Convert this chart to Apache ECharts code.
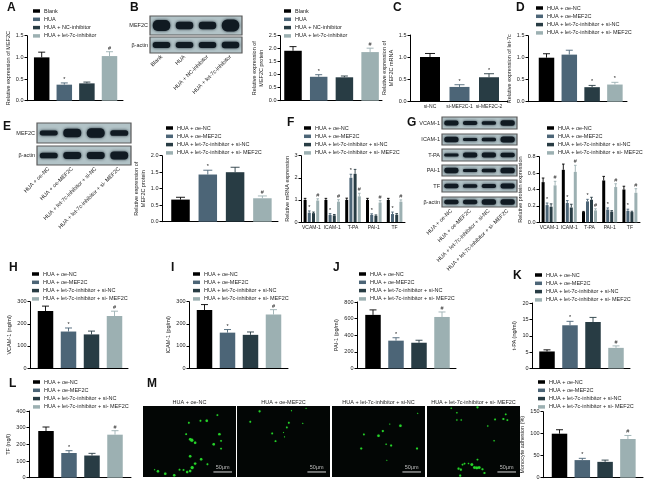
<!DOCTYPE html>
<html><head><meta charset="utf-8">
<style>html,body{margin:0;padding:0;background:#fff}#c{width:647px;height:483px;filter:blur(0.3px)}</style>
<script src="https://cdn.jsdelivr.net/npm/echarts@6/dist/echarts.min.js"></script>
</head><body><div id="c"></div>
<script>
// ---------- names ----------
const namesBlank = ['Blank','HUA','HUA + NC-inhibitor','HUA + let-7c-inhibitor'];
const namesRescue = ['HUA + oe-NC','HUA + oe-MEF2C','HUA + let-7c-inhibitor + si-NC','HUA + let-7c-inhibitor + si- MEF2C'];
const namesSi = ['si-NC','si-MEF2C-1','si-MEF2C-2'];
const molecules = ['VCAM-1','ICAM-1','T-PA','PAI-1','TF'];
const colors = ['#000000','#4c6577','#283c44','#9cb0b2'];

// ---------- values ----------
const valuesA=[1.0,0.37,0.40,1.03], errorsA=[0.12,0.04,0.03,0.10], marksA=['','*','','#'];
const valuesB=[1.92,0.92,0.90,1.87], errorsB=[0.16,0.08,0.05,0.15], marksB=['','*','','#'];
const valuesC=[1.0,0.32,0.54], errorsC=[0.08,0.05,0.08], marksC=['','*','*'];
const valuesD=[1.0,1.07,0.33,0.39], errorsD=[0.09,0.10,0.04,0.05], marksD=['','','*','*'];
const valuesE=[0.67,1.43,1.50,0.71], errorsE=[0.07,0.13,0.15,0.07], marksE=['','*','','#'];
const valuesH=[258,165,152,235], errorsH=[22,16,15,22], marksH=['','*','','#'];
const valuesI=[262,160,150,242], errorsI=[25,14,13,22], marksI=['','*','','#'];
const valuesJ=[645,335,310,620], errorsJ=[60,35,30,60], marksJ=['','*','','#'];
const valuesK=[5.2,13.2,14.2,6.3], errorsK=[0.5,1.2,1.4,0.6], marksK=['','*','','#'];
const valuesL=[280,148,133,258], errorsL=[24,14,13,24], marksL=['','*','','#'];
const valuesM=[100,40,36,88], errorsM=[9,4,4,8], marksM=['','*','','#'];

const valuesF=[[1,1,1,1,1],[0.42,0.32,2.0,0.32,0.36],[0.40,0.30,2.18,0.28,0.33],[0.97,0.92,1.16,0.88,0.92]];
const errorsF=[[0.07,0.07,0.08,0.07,0.07],[0.08,0.06,0.16,0.05,0.09],[0.05,0.04,0.2,0.04,0.05],[0.08,0.09,0.14,0.09,0.08]];
const marksF=[['','','','',''],['*','*','*','*','*'],['','','','',''],['#','#','#','#','#']];
const valuesG=[[0.49,0.64,0.125,0.51,0.40],[0.21,0.235,0.255,0.155,0.14],[0.19,0.18,0.275,0.13,0.125],[0.45,0.615,0.145,0.43,0.36]];
const errorsG=[[0.05,0.07,0.008,0.05,0.04],[0.025,0.03,0.025,0.02,0.02],[0.035,0.04,0.03,0.012,0.01],[0.05,0.08,0.02,0.04,0.05]];
const marksG=[['','','','',''],['*','*','*','*','*'],['','','','',''],['#','#','#','#','#']];

// ---------- western blot band thickness per lane ----------
const bandsB=[['MEF2C',[0.58,0.40,0.40,0.62]],['β-actin',[0.36,0.38,0.36,0.40]]];
const bandsE=[['MEF2C',[0.25,0.42,0.48,0.28]],['β-actin',[0.30,0.36,0.36,0.42]]];
const bandsG=[['VCAM-1',[0.40,0.32,0.30,0.46]],['ICAM-1',[0.50,0.28,0.30,0.55]],['T-PA',[0.25,0.42,0.40,0.36]],['PAI-1',[0.48,0.26,0.30,0.52]],['TF',[0.36,0.28,0.32,0.40]],['β-actin',[0.46,0.46,0.55,0.55]]];

// ---------- fluorescence dots, in image pixels from lower left ----------
const dots1=[[138,162,2],[173,168,2],[192,168,3],[224,185,2],[230,128,3],[142,113,3],[147,110,4],[157,102,3],[213,98,3],[235,108,2],[235,85,2],[130,128,2],[142,62,3],[175,53,3],[157,40,3],[194,38,2],[148,28,4],[142,18,3],[133,15,3],[122,21,2],[110,22,2],[94,5,3],[67,10,3],[45,17,3],[35,22,1]];
const dots2=[[68,196,2.5],[40,165,2],[164,198,1],[156,162,2],[150,148,2],[106,130,2],[140,133,1],[116,107,2],[143,120,1],[208,205,1],[198,160,1]];
const dots3=[[258,190,1],[206,153,3],[153,137,2.5],[140,123,3],[96,127,2],[174,158,1],[163,98,1.5],[178,94,2.5],[88,85,2.5],[256,85,2.5],[165,50,1]];
const dots4=[[73,205,1.5],[152,208,2.5],[90,192,1.5],[90,170,1.5],[103,170,1.5],[205,172,2],[230,173,2.5],[242,170,2],[237,187,2],[183,152,1.5],[202,108,1.5],[152,52,2],[135,37,3.5],[143,28,3.5],[150,27,3.5],[157,28,3.5],[125,40,1.5],[107,37,2],[113,40,2],[95,25,2.5],[102,22,2.5],[167,23,2.5],[173,12,2.5],[100,4,2.5]];

const FONT='"Liberation Sans", Arial, sans-serif', FS=5.5, INK='#1c1c1c';
const option={animation:false,backgroundColor:'#fff',textStyle:{fontFamily:FONT},grid:[],xAxis:[],yAxis:[],series:[],legend:[],graphic:[]};

function addGrid(l,t,r,b,extra){option.grid.push(Object.assign({left:l,top:t,width:r-l,height:b-t,containLabel:false},extra||{}));return option.grid.length-1;}
function yAx(gi,max,interval,name,gap,fmt){
  option.yAxis.push({type:'value',gridIndex:gi,min:0,max:max,interval:interval,
    name:name,nameLocation:'middle',nameGap:gap,nameRotate:90,
    nameTextStyle:{fontSize:FS,color:INK,fontFamily:FONT,lineHeight:7},
    axisLine:{show:true,onZero:false,lineStyle:{color:'#000',width:1}},axisTick:{show:true,length:2.5,lineStyle:{color:'#000',width:1}},
    axisLabel:{fontSize:FS,color:INK,margin:3.5,fontFamily:FONT,formatter:fmt},splitLine:{show:false}});
  return option.yAxis.length-1;
}
function addLegend(names,x,y,gap){
  option.legend.push({data:names,left:x,top:y,orient:'vertical',padding:0,itemGap:gap,itemWidth:7,itemHeight:3.5,icon:'rect',selectedMode:false,
    textStyle:{fontSize:FS,color:INK,fontFamily:FONT,padding:[0,0,0,-1]}});
}
function errorItem(offsetPx,capPx){
  return function(params,api){
    const x=api.value(0),v=api.value(1),e=api.value(2),c=api.value(3),o=offsetPx(c);
    const p0=api.coord([x,v]),p1=api.coord([x,v+e]);
    const X=p0[0]+o,col=colors[c];
    const txt=api.value(4)===1?'*':api.value(4)===2?'#':'';
    return {type:'group',children:[
      {type:'line',shape:{x1:X,y1:p0[1],x2:X,y2:p1[1]},style:{stroke:col,lineWidth:0.9},silent:true},
      {type:'line',shape:{x1:X-capPx,y1:p1[1],x2:X+capPx,y2:p1[1]},style:{stroke:col,lineWidth:0.9},silent:true},
      {type:'text',x:X,y:p1[1]-0.5,style:{text:txt,fill:'#222',fontSize:FS,fontFamily:FONT,align:'center',verticalAlign:'bottom'},silent:true}
    ]};
  };
}
const markCode=m=>m==='*'?1:m==='#'?2:0;

function simplePanel(p){
  const gi=addGrid(p.left,p.top,p.right,p.bottom);
  const c0=p.c0, s=p.step;
  const xmin=(p.left-c0)/s, xmax=(p.right-c0)/s;
  const xIdx=option.xAxis.push({type:'value',gridIndex:gi,min:xmin,max:xmax,
    axisLine:{show:true,onZero:false,lineStyle:{color:'#000',width:1}},axisTick:{show:false},splitLine:{show:false},axisLabel:{show:false}})-1;
  const yIdx=yAx(gi,p.max,p.interval,p.yname,p.gap,p.fmt);
  const cidx=p.colorIdx||[0,1,2,3];
  p.values.forEach((v,i)=>{
    option.series.push({type:'bar',name:p.names?p.names[i]:('bar'+gi+'_'+i),xAxisIndex:xIdx,yAxisIndex:yIdx,barWidth:p.bw,barGap:'-100%',
      itemStyle:{color:colors[cidx[i]]},data:[[i,v]]});
  });
  option.series.push({type:'custom',name:'err'+gi,xAxisIndex:xIdx,yAxisIndex:yIdx,renderItem:errorItem(()=>0,p.cap||3.5),clip:false,z:3,
    data:p.values.map((v,i)=>[i,v,p.errors[i],cidx[i],markCode(p.marks[i])])});
  if(p.names) addLegend(p.names,p.lx,p.ly,p.lgap||2.3);
  if(p.labels){
    // label band: a plain category axis whose bands sit exactly under the bars
    const g2=addGrid(c0-s/2,p.top,c0+s*(p.labels.length-0.5),p.bottom);
    option.xAxis.push({type:'category',gridIndex:g2,data:p.labels,axisLine:{show:false},axisTick:{show:false},
      axisLabel:{fontSize:p.labelSize||FS,color:INK,margin:3,fontFamily:FONT,interval:0}});
    option.yAxis.push({type:'value',gridIndex:g2,min:0,max:1,show:false});
  }
}
function groupPanel(p){
  const gi=addGrid(p.left,p.top,p.right,p.bottom);
  const xIdx=option.xAxis.push({type:'category',gridIndex:gi,data:molecules,
    axisLine:{show:true,lineStyle:{color:'#000',width:1}},axisTick:{show:false},
    axisLabel:{fontSize:5,color:INK,margin:3,fontFamily:FONT,interval:0}})-1;
  const yIdx=yAx(gi,p.max,p.interval,p.yname,p.gap,p.fmt);
  p.values.forEach((row,i)=>{
    option.series.push({type:'bar',name:namesRescue[i],xAxisIndex:xIdx,yAxisIndex:yIdx,barWidth:p.bw,barGap:p.barGap,
      itemStyle:{color:colors[i]},data:row});
    option.series.push({type:'custom',name:'err'+gi+'_'+i,xAxisIndex:xIdx,yAxisIndex:yIdx,clip:false,z:3,
      renderItem:errorItem(c=>(c-1.5)*p.stepPx,1.3),
      data:row.map((v,j)=>[j,v,p.errors[i][j],i,markCode(p.marks[i][j])])});
  });
  addLegend(namesRescue,p.lx,p.ly,2.3);
}
function blotRow(label,bands,l,t,r,b,ticks){
  const gi=addGrid(l,t,r,b,{show:true,borderColor:'#5a5a5a',borderWidth:1.2,backgroundColor:'#b2c3c7'});
  const xIdx=option.xAxis.push({type:'category',gridIndex:gi,data:ticks||['a','b','c','d'],
    axisLine:{show:false},axisTick:{show:false},
    axisLabel:ticks?{show:true,rotate:45,interval:0,fontSize:FS,color:INK,margin:3,fontFamily:FONT}:{show:false}})-1;
  const yIdx=option.yAxis.push({type:'value',gridIndex:gi,min:0,max:1,name:label,nameLocation:'middle',nameGap:2,nameRotate:0,
    nameTextStyle:{fontSize:FS,color:INK,align:'right',verticalAlign:'middle',fontFamily:FONT},
    axisLine:{show:false},axisTick:{show:false},axisLabel:{show:false},splitLine:{show:false}})-1;
  option.series.push({type:'custom',name:'blot'+gi,xAxisIndex:xIdx,yAxisIndex:yIdx,clip:true,
    data:bands.map((v,i)=>[i,0.5,v]),
    renderItem:(params,api)=>{
      const c=api.coord([api.value(0),api.value(1)]);
      const sz=api.size([1,api.value(2)]);
      const w=sz[0]*0.76,h=sz[1];
      return {type:'rect',shape:{x:c[0]-w/2,y:c[1]-h/2,width:w,height:h,r:h/2.2},
        style:{fill:'#101a22',shadowBlur:3,shadowColor:'rgba(15,28,38,0.9)'},silent:true};
    }});
}
function microPanel(title,dots,l,t,r,b){
  const gi=addGrid(l,t,r,b,{show:true,borderWidth:0,backgroundColor:'#030605'});
  const xIdx=option.xAxis.push({type:'value',gridIndex:gi,min:0,max:280,position:'top',name:title,nameLocation:'middle',nameGap:1,
    nameTextStyle:{fontSize:FS,color:INK,fontFamily:FONT,verticalAlign:'bottom'},
    axisLine:{show:false},axisTick:{show:false},axisLabel:{show:false},splitLine:{show:false}})-1;
  const yIdx=option.yAxis.push({type:'value',gridIndex:gi,min:0,max:212,show:false})-1;
  option.series.push({type:'scatter',name:'dots'+gi,xAxisIndex:xIdx,yAxisIndex:yIdx,data:dots,symbol:'circle',
    symbolSize:v=>v[2]*0.65+0.5,itemStyle:{color:'#2ce82f',shadowBlur:1,shadowColor:'#1bb51f'}});
  option.series.push({type:'custom',name:'scale'+gi,xAxisIndex:xIdx,yAxisIndex:yIdx,data:[[212,268,15]],
    renderItem:(params,api)=>{
      const a=api.coord([api.value(0),api.value(2)]),c=api.coord([api.value(1),api.value(2)]);
      return {type:'group',children:[
        {type:'line',shape:{x1:a[0],y1:a[1],x2:c[0],y2:c[1]},style:{stroke:'#d8d8d8',lineWidth:1}},
        {type:'text',x:(a[0]+c[0])/2,y:a[1]-1,style:{text:'50μm',fill:'#bdbdbd',fontSize:FS,fontFamily:FONT,align:'center',verticalAlign:'bottom'}}
      ]};
    }});
}
const f1=v=>v.toFixed(1);

simplePanel({left:27,right:123,top:35.7,bottom:100.7,c0:41.7,step:22.6,bw:15.5,max:1.5,interval:0.5,fmt:f1,
  yname:'Relative expression of MEF2C',gap:12,values:valuesA,errors:errorsA,marks:marksA,names:namesBlank,lx:33,ly:8});
simplePanel({left:280,right:382,top:35.7,bottom:100.7,c0:293,step:25.7,bw:17.5,max:2.5,interval:0.5,fmt:f1,
  yname:'Relative expression of\nMEF2C protein',gap:13,values:valuesB,errors:errorsB,marks:marksB,names:namesBlank,lx:284,ly:8});
simplePanel({left:410,right:508,top:35,bottom:101,c0:430,step:29.5,bw:20,max:1.5,interval:0.5,fmt:f1,cap:5,
  yname:'Relative expression of\nMEF2C mRNA',gap:10,values:valuesC,errors:errorsC,marks:marksC,labels:namesSi,colorIdx:[0,1,2],labelSize:5});
simplePanel({left:528,right:627,top:35.7,bottom:101.7,c0:546.5,step:22.8,bw:15.5,max:1.5,interval:0.5,fmt:f1,
  yname:'Relative expression of let-7c',gap:8,values:valuesD,errors:errorsD,marks:marksD,names:namesRescue,lx:536,ly:5});
simplePanel({left:162,right:278,top:155.7,bottom:221.7,c0:180.5,step:27.3,bw:18.5,max:2.0,interval:0.5,fmt:f1,cap:4.5,
  yname:'Relative expression of\nMEF2C protein',gap:11,values:valuesE,errors:errorsE,marks:marksE,names:namesRescue,lx:166,ly:125});
groupPanel({left:301,right:405,top:155.7,bottom:222,max:3,interval:1,yname:'Relative mRNA expression',gap:8,
  values:valuesF,errors:errorsF,marks:marksF,bw:3,barGap:'40%',stepPx:4.2,lx:304,ly:125});
groupPanel({left:539,right:640,top:156.7,bottom:222.3,max:0.8,interval:0.2,fmt:f1,yname:'Relative protein expression',gap:9,
  values:valuesG,errors:errorsG,marks:marksG,bw:3,barGap:'33%',stepPx:4,lx:547,ly:125});
simplePanel({left:30,right:128,top:301.7,bottom:368,c0:45.5,step:23,bw:15.5,max:300,interval:100,
  yname:'VCAM-1 (ng/ml)',gap:12,values:valuesH,errors:errorsH,marks:marksH,names:namesRescue,lx:32,ly:271});
simplePanel({left:189,right:288,top:301.7,bottom:368,c0:204.5,step:23,bw:15.5,max:300,interval:100,
  yname:'ICAM-1 (pg/ml)',gap:12,values:valuesI,errors:errorsI,marks:marksI,names:namesRescue,lx:193,ly:271});
simplePanel({left:357,right:456,top:302,bottom:368.5,c0:373,step:23,bw:15.5,max:800,interval:200,
  yname:'PAI-1 (pg/ml)',gap:12,values:valuesJ,errors:errorsJ,marks:marksJ,names:namesRescue,lx:359,ly:271});
simplePanel({left:532,right:630,top:303,bottom:368.5,c0:547,step:23,bw:15.5,max:20,interval:5,
  yname:'t-PA (ng/ml)',gap:9,values:valuesK,errors:errorsK,marks:marksK,names:namesRescue,lx:535,ly:272});
simplePanel({left:29,right:131,top:411,bottom:477.7,c0:46,step:23,bw:15.5,max:400,interval:100,
  yname:'TF (ng/l)',gap:10,values:valuesL,errors:errorsL,marks:marksL,names:namesRescue,lx:33,ly:379});
simplePanel({left:543,right:643,top:411.7,bottom:477.7,c0:559.5,step:22.8,bw:15.5,max:150,interval:50,
  yname:'Monocyte adhesion (%)',gap:11,values:valuesM,errors:errorsM,marks:marksM,names:namesRescue,lx:538,ly:379});

blotRow(bandsB[0][0],bandsB[0][1],150,16,242,35);
blotRow(bandsB[1][0],bandsB[1][1],150,37,242,53,namesBlank);
blotRow(bandsE[0][0],bandsE[0][1],37,123,131,143);
blotRow(bandsE[1][0],bandsE[1][1],37,146,131,165,namesRescue);
const rowsG=[[117,129],[134,145],[149,161],[165,176],[180,192],[197,207]];
bandsG.forEach((r,i)=>blotRow(r[0],r[1],442,rowsG[i][0],517,rowsG[i][1],i===5?namesRescue:null));

microPanel('HUA + oe-NC',dots1,143,406,236,477);
microPanel('HUA + oe-MEF2C',dots2,237,406,330,477);
microPanel('HUA + let-7c-inhibitor + si-NC',dots3,332,406,425,477);
microPanel('HUA + let-7c-inhibitor + si- MEF2C',dots4,427,406,520,477);

[['A',7,7.5],['B',130,7.5],['C',393,7.5],['D',516,7.5],['E',3,126.5],['F',287,122.5],['G',407,122.5],['H',9,267.5],['I',171,267.5],['J',333,267.5],['K',513,275.5],['L',9,384],['M',147,384]]
 .forEach(d=>option.graphic.push({type:'text',left:d[1],top:d[2]-6,style:{text:d[0],fontSize:12,fontWeight:'bold',fill:'#111',fontFamily:FONT}}));

const chart=echarts.init(document.getElementById('c'),null,{renderer:'canvas',width:647,height:483});
chart.setOption(option);
</script></body></html>
